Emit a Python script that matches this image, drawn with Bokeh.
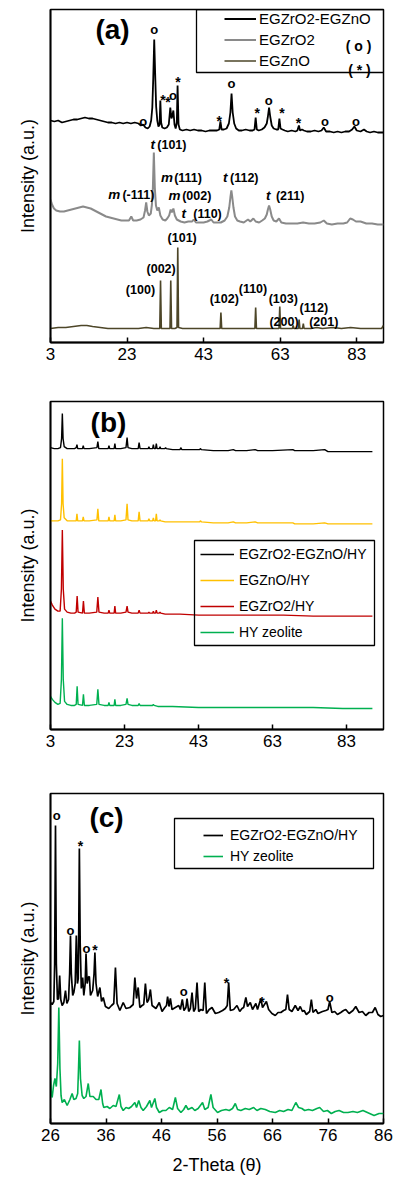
from bokeh.plotting import figure
from bokeh.layouts import column
from bokeh.models import Range1d, FixedTicker, Legend, LegendItem, Label, BoxAnnotation
from bokeh.core.properties import value
from bokeh.embed import file_html
from bokeh.resources import INLINE

FONT = "Liberation Sans"

# ---------------- Panel (a) data ----------------
a_zrzn_x = [3.0,4.0,5.0,6.0,7.0,8.0,9.0,10.0,11.0,12.0,13.0,14.0,15.0,16.0,17.0,18.0,19.0,20.0,21.0,22.0,23.0,24.0,25.0,26.0,26.6,27.2,27.8,28.4,28.9,29.3,29.6,29.85,30.1,30.35,30.6,30.9,31.2,31.5,31.7,31.9,32.2,32.8,33.4,33.9,34.3,34.6,34.8,35.1,35.4,35.7,36.0,36.2,36.45,36.8,37.5,38.5,39.5,40.5,41.5,42.5,43.5,44.5,45.5,46.5,47.1,47.4,47.7,48.3,49.0,49.6,50.0,50.3,50.6,51.0,51.5,52.2,53.0,54.0,55.0,55.8,56.3,56.6,56.9,57.4,58.2,58.9,59.5,59.8,60.1,60.4,60.8,61.3,62.0,62.5,62.8,63.1,63.6,64.2,65.0,66.0,67.0,67.5,67.9,68.2,68.7,69.2,70.0,71.0,72.0,73.0,73.8,74.4,75.0,76.0,77.0,78.0,79.0,80.0,81.0,81.8,82.4,83.0,84.0,84.9,85.6,86.5,87.5,88.5,90.0]
a_zrzn_y = [222,221,222,220,221,222,223,223,224,225,224,224,223,222,221,220,220,219,220,219,220,219,220,219,217,218,215,214,216,222,235,265,303,268,236,222,216,218,242,220,215,214,215,218,235,224,226,232,218,214,220,257,218,213,212,213,212,213,212,212,211,212,212,212,213,221,213,213,214,219,230,249,230,219,214,212,212,213,212,212,213,225,213,212,213,215,219,226,235,226,217,214,213,213,224,214,213,212,211,212,211,212,217,212,213,212,211,211,212,211,212,215,211,211,210,211,210,211,211,213,216,212,211,213,211,210,211,210,210]

a_zr_x = [3.0,3.4,3.9,4.5,5.5,6.5,7.5,8.5,9.5,10.5,11.5,12.5,13.5,14.5,15.5,16.5,17.5,18.5,19.5,20.5,21.5,22.5,23.5,24.1,24.6,25.5,26.5,27.3,27.7,28.0,28.3,28.7,29.2,29.5,29.75,30.0,30.25,30.55,30.9,31.3,31.7,32.3,33.0,33.5,34.0,34.4,34.7,35.1,35.5,36.0,37.0,38.0,39.0,40.0,40.4,41.0,42.0,43.0,44.0,45.0,45.6,46.5,47.5,48.5,49.2,49.7,50.0,50.25,50.5,50.8,51.2,51.8,52.5,53.5,54.6,55.2,56.0,56.6,57.5,58.3,59.0,59.5,59.8,60.1,60.4,60.8,61.3,62.0,62.7,63.3,64.5,66.0,67.5,69.0,70.5,72.0,73.5,74.4,75.2,76.5,78.0,79.5,80.5,81.3,82.0,82.8,84.0,85.5,87.0,88.5,90.0]
a_zr_y = [143,138,134,132,131,131,132,133,134,135,136,135,134,132,130,128,126,125,124,123,122,122,122,126,122,122,123,125,132,140,131,127,129,138,155,190,155,137,132,135,127,123,122,124,127,133,130,134,127,123,121,120,121,121,123,120,120,120,121,123,120,120,120,122,126,135,145,152,145,135,126,122,121,120,123,121,124,121,120,122,124,128,133,137,133,126,122,121,124,120,119,119,119,120,119,119,120,122,119,118,119,119,120,124,123,121,121,119,119,118,118]

a_zn_x = [3.0,5.0,7.0,9.0,11.0,12.5,14.0,16.0,18.0,20.0,22.0,24.0,26.0,28.0,30.0,31.55,31.75,31.95,33.0,34.22,34.42,34.62,35.5,36.05,36.25,36.45,37.5,40.0,43.0,45.0,47.32,47.52,47.72,50.0,53.0,56.4,56.6,56.8,59.0,62.7,62.9,63.1,65.0,66.2,66.4,66.6,67.75,67.95,68.15,68.85,69.05,69.25,71.0,72.6,74.0,76.9,79.0,81.4,84.0,87.0,89.5,90.0]
a_zn_y = [14,15,15,16,17,17,16,15,14,14,14,14,14,15,14,14,62,14,14,14,62,14,14,15,95,15,14,14,14,14,14,30,14,14,14,14,35,14,14,14,36,14,14,14,17,14,14,23,14,14,19,14,14,15,14,15,14,15,14,14,14,17]

a_mark_x = [27.2, 30.1, 32.4, 33.7, 35.0, 36.3, 47.1, 50.3, 57.0, 60.0, 63.5, 67.8, 74.7, 82.8]
a_mark_y = [221, 313, 247, 245, 247, 265, 226, 259, 234, 242, 234, 224, 221, 221]
a_mark_t = ["o", "o", "*", "*", "o", "*", "*", "o", "*", "o", "*", "*", "o", "o"]

a_phase_t = ["t", "m", "t", "m", "m", "t", "t"]
a_phase_x = [29.1, 31.9, 48.1, 18.1, 33.8, 37.2, 59.3]
a_hkl_t = ["(101)", "(111)", "(112)", "(-111)", "(002)", "(110)", "(211)"]
a_hkl_x = [30.9, 35.3, 49.9, 21.8, 37.4, 40.3, 61.9]
a_hkl_y = [198, 165, 165, 148, 147, 129, 147]

a_zn_lab = ["(100)", "(002)", "(101)", "(102)", "(110)", "(103)", "(112)", "(200)", "(201)"]
a_zn_lab_x = [26.5, 31.9, 37.4, 48.4, 55.9, 63.8, 71.8, 64.0, 74.4]
a_zn_lab_y = [53, 74, 105, 44, 54, 44, 35, 21, 21]

a_ticks = [3, 23, 43, 63, 83]

# ---------------- Panel (b) data ----------------
b_zrzn_x = [3.0,4.0,5.0,5.7,6.0,6.2,6.4,6.7,7.5,8.5,9.5,9.95,10.15,10.35,11.65,11.85,12.05,13.5,15.55,15.8,16.05,17.5,18.6,18.8,19.0,20.2,20.4,20.6,22.0,23.4,23.7,23.95,25.0,26.7,26.95,27.2,28.5,29.4,29.6,29.8,30.6,30.8,31.0,31.4,31.6,31.8,32.4,32.6,32.8,33.9,34.1,34.3,36.0,38.0,38.2,38.5,41.0,43.3,43.5,43.8,47.0,51.0,52.4,53.0,56.0,58.3,59.0,63.0,68.5,69.0,74.0,77.1,78.0,84.0,90.0]
b_zrzn_y = [281,280,280,281,290,315,290,282,280,280,280,281,284,280,280,283,280,280,281,287,280,280,280,283,280,280,285,280,280,281,291,281,280,280,286,280,280,280,282,280,280,284,280,280,285,280,280,282,280,280,281,280,279,279,281,279,279,279,280,279,278,278,279,278,278,279,278,278,279,278,278,279,277,277,277]

b_zn_x = [3.0,4.0,5.0,5.7,6.0,6.2,6.4,6.7,7.5,8.5,9.5,9.95,10.15,10.35,11.65,11.85,12.05,13.5,15.55,15.8,16.05,17.5,18.6,18.8,19.0,20.2,20.4,20.6,22.0,23.4,23.7,23.95,25.0,26.7,26.95,27.2,28.5,29.4,29.6,29.8,30.6,30.8,31.0,31.4,31.6,31.8,32.4,32.6,32.8,34.0,38.0,41.0,43.3,43.5,43.8,47.0,51.0,52.4,53.0,56.0,58.3,59.0,63.0,68.5,69.0,74.0,77.1,78.0,84.0,90.0]
b_zn_y = [208,208,208,209,225,270,225,211,208,208,208,208,215,208,208,212,208,208,209,220,208,208,208,212,208,208,214,208,208,209,225,209,208,208,217,208,208,208,210,208,208,211,208,208,215,208,208,209,208,207,207,207,207,208,207,206,206,207,206,206,207,206,206,206,205,205,206,205,205,205]

b_zr_x = [3.0,3.5,4.2,5.0,5.6,5.95,6.2,6.45,6.8,7.5,8.5,9.5,9.95,10.2,10.45,11.65,11.9,12.15,13.5,15.5,15.8,16.1,17.5,18.6,18.8,19.0,20.2,20.4,20.6,22.0,23.4,23.7,23.95,25.0,26.7,26.95,27.2,28.5,29.4,29.6,29.8,30.6,30.8,31.0,31.4,31.6,31.8,32.4,32.6,32.8,34.0,38.0,43.0,50.0,58.0,66.0,74.0,82.0,90.0]
b_zr_y = [128,124,120,118,118,140,199,140,120,117,116,116,117,133,117,116,128,116,116,117,132,117,116,116,119,116,116,123,116,116,117,123,117,116,116,119,116,116,116,117,116,116,118,116,116,119,116,116,117,116,115,115,114,114,114,114,113,113,113]

b_hy_x = [3.0,3.5,4.2,5.0,5.6,5.95,6.2,6.45,6.8,7.5,8.5,9.5,9.95,10.2,10.45,11.65,11.9,12.15,13.5,15.5,15.8,16.1,17.5,18.6,18.8,19.0,20.2,20.4,20.6,22.0,23.4,23.7,23.95,25.0,26.7,26.95,27.2,28.5,30.6,30.8,31.0,32.0,36.0,43.0,50.0,58.0,66.0,74.0,82.0,90.0]
b_hy_y = [33,30,27,25,26,50,111,50,28,25,24,24,25,43,25,24,35,24,24,25,40,25,24,24,27,24,24,30,24,24,25,31,25,24,24,26,24,24,24,25,24,23,23,22,22,22,22,22,21,21]

b_ticks = [3, 23, 43, 63, 83]

# ---------------- Panel (c) data ----------------
c_zrzn_x = [26.0,26.3,26.6,26.75,26.9,27.05,27.25,27.45,27.65,27.85,28.1,28.4,28.7,28.95,29.25,29.45,29.6,29.75,30.0,30.2,30.45,30.65,30.85,31.0,31.1,31.2,31.35,31.55,31.8,32.0,32.25,32.4,32.6,32.8,33.0,33.2,33.6,33.85,34.0,34.2,34.5,34.9,35.2,35.5,35.9,36.5,37.0,37.4,37.7,38.0,38.5,39.1,39.6,40.3,40.9,41.2,41.5,41.8,42.1,42.5,42.8,43.1,43.4,43.7,44.0,44.3,45.0,45.6,46.1,46.6,46.9,47.1,47.35,47.6,47.9,48.5,49.1,49.4,49.75,50.05,50.4,50.6,50.9,51.2,51.5,51.8,52.1,52.4,52.7,53.1,53.5,53.8,54.1,54.6,55.1,55.7,56.3,57.0,57.5,57.85,58.1,58.4,59.0,59.6,60.1,60.5,60.8,61.2,61.5,62.0,62.4,63.0,63.3,63.9,64.2,64.9,65.3,65.9,66.5,67.0,67.5,68.0,68.4,68.7,69.0,69.5,70.1,70.6,71.0,71.4,71.7,72.1,72.7,73.0,73.3,73.8,74.2,75.0,75.6,76.0,76.3,76.7,77.2,77.7,78.3,78.8,79.2,79.8,80.5,81.0,81.6,82.2,82.8,83.4,84.0,84.5,85.0,85.5,86.0]
c_zrzn_y = [121,119,122,160,298,160,124,125,148,124,118,121,133,120,124,150,188,150,128,131,140,188,140,145,200,275,180,135,146,128,140,170,140,146,147,128,133,150,171,140,127,136,122,126,117,115,118,120,156,120,113,121,115,116,119,146,125,136,116,118,119,140,121,124,134,118,115,121,112,116,118,127,117,125,114,116,118,114,124,113,116,125,112,115,131,112,115,141,112,114,113,141,110,114,116,110,111,113,115,118,141,113,114,118,112,115,116,126,117,121,114,120,114,125,116,122,114,110,108,111,111,113,114,129,114,112,118,113,117,112,113,109,112,124,111,114,110,112,113,114,122,111,112,109,111,113,114,110,113,117,111,112,108,111,111,116,109,107,108]

c_hy_x = [26.0,26.15,26.3,26.55,26.8,27.05,27.3,27.5,27.7,27.9,28.1,28.5,29.0,29.5,29.9,30.2,30.6,30.9,31.05,31.2,31.4,31.7,32.0,32.4,32.8,33.1,33.7,34.2,34.7,35.1,35.4,35.6,36.2,36.7,37.3,37.8,38.4,38.7,39.1,39.6,40.1,40.6,41.2,41.5,41.9,42.3,42.7,43.3,43.9,44.2,44.8,45.1,45.6,46.2,46.8,47.4,48.0,48.5,48.9,49.5,50.0,50.4,50.8,51.5,52.0,52.6,53.4,53.8,54.4,54.9,55.3,56.1,56.8,57.6,58.2,58.8,59.3,59.7,60.3,61.1,61.8,62.6,63.2,63.9,64.7,65.5,66.5,67.3,68.0,68.8,69.5,70.2,70.7,71.3,71.8,72.5,73.2,74.0,74.5,75.2,75.9,76.6,77.3,78.0,78.8,79.6,80.5,81.3,82.3,83.1,84.3,85.2,86.0]
c_hy_y = [46,30,26,38,45,37,60,116,55,28,21,24,18,24,30,24,25,30,55,83,45,28,25,27,40,27,27,24,24,34,20,16,17,15,18,17,29,17,13,16,15,17,21,16,23,16,13,17,23,16,25,16,11,13,13,16,14,26,15,11,14,18,14,16,13,15,21,14,16,29,16,11,13,14,13,15,20,14,13,15,14,16,13,15,14,12,11,13,12,14,13,21,16,15,13,14,13,15,16,12,13,10,12,13,11,11,12,11,13,11,8,10,10]

c_mark_x = [27.1, 29.6, 31.4, 32.5, 34.0, 50.0, 57.7, 64.1, 76.3]
c_mark_y = [308, 193, 282, 175, 178, 132, 145, 126, 126]
c_mark_t = ["o", "o", "*", "o", "*", "o", "*", "*", "o"]

c_ticks = [26, 36, 46, 56, 66, 76, 86]

BLACK = "#000000"
GRAY = "#8a8a8a"
OLIVE = "#4d4628"
YELLOW = "#ffc000"
RED = "#c00000"
GREEN = "#00b050"


def make_fig(h, xr, yr, ticks, bl, br, bt, bb):
    p = figure(width=400, height=h, x_range=Range1d(*xr), y_range=Range1d(*yr),
               output_backend="svg", toolbar_location=None,
               min_border_left=bl, min_border_right=br,
               min_border_top=bt, min_border_bottom=bb)
    p.grid.visible = False
    p.outline_line_color = "black"
    p.outline_line_width = 1.5
    p.outline_line_alpha = 1
    xa = p.xaxis[0]
    xa.ticker = FixedTicker(ticks=ticks)
    xa.minor_tick_line_color = None
    xa.major_tick_in = 5
    xa.major_tick_out = 0
    xa.major_tick_line_width = 1.5
    xa.axis_line_width = 1.8
    xa.major_label_text_font = FONT
    xa.major_label_text_font_size = "17px"
    xa.major_label_text_color = "black"
    xa.major_label_standoff = 5
    ya = p.yaxis[0]
    ya.ticker = FixedTicker(ticks=[])
    ya.minor_tick_line_color = None
    ya.major_tick_in = 0
    ya.major_tick_out = 0
    ya.axis_line_width = 1.8
    ya.axis_label = "Intensity (a.u.)"
    ya.axis_label_text_font = FONT
    ya.axis_label_text_font_size = "18px"
    ya.axis_label_text_font_style = "normal"
    ya.axis_label_text_color = "black"
    ya.axis_label_standoff = 13
    return p


def marks(p, xs, ys, ts):
    ox = [x for x, t in zip(xs, ts) if t == "o"]
    oy = [y for y, t in zip(ys, ts) if t == "o"]
    sx = [x for x, t in zip(xs, ts) if t == "*"]
    sy = [y for y, t in zip(ys, ts) if t == "*"]
    p.text(x=ox, y=oy, text=["o"] * len(ox), text_font=value(FONT), text_font_size=value("13px"),
           text_font_style="bold", text_align="center", text_baseline="middle", text_color="black")
    p.text(x=sx, y=sy, text=["*"] * len(sx), text_font=value(FONT), text_font_size=value("14px"),
           text_font_style="bold", text_align="center", text_baseline="middle", text_color="black",
           y_offset=4)


def legend_box(p, left, right, top, bottom):
    p.add_layout(BoxAnnotation(left=left, right=right, top=top, bottom=bottom,
                               left_units="screen", right_units="screen",
                               top_units="screen", bottom_units="screen",
                               fill_alpha=0, line_color="black", line_alpha=1, line_width=1.3))


def title(p, txt, x, y):
    p.add_layout(Label(x=x, y=y, x_units="screen", y_units="screen", text=txt,
                       text_font=FONT, text_font_size="28px", text_font_style="bold",
                       text_align="center", text_baseline="middle", text_color="black"))


# ---------------- Panel (a) ----------------
pa = make_fig(380, (3, 90), (0, 333), a_ticks, 49, 17, 9, 38)
ra1 = pa.line(a_zrzn_x, a_zrzn_y, line_color=BLACK, line_width=1.8)
ra2 = pa.line(a_zr_x, a_zr_y, line_color=GRAY, line_width=2.0)
ra3 = pa.line(a_zn_x, a_zn_y, line_color=OLIVE, line_width=1.6)
marks(pa, a_mark_x, a_mark_y, a_mark_t)
pa.text(x=a_phase_x, y=a_hkl_y, text=a_phase_t, text_font=value(FONT), text_font_size=value("13.5px"),
        text_font_style="bold italic", text_align="left", text_baseline="middle", text_color="black")
pa.text(x=a_hkl_x, y=a_hkl_y, text=a_hkl_t, text_font=value(FONT), text_font_size=value("12.5px"),
        text_font_style="bold", text_align="left", text_baseline="middle", text_color="black")
pa.text(x=a_zn_lab_x, y=a_zn_lab_y, text=a_zn_lab, text_font=value(FONT), text_font_size=value("12.5px"),
        text_font_style="bold", text_align="center", text_baseline="middle", text_color="black")
leg_a = Legend(items=[LegendItem(label="EGZrO2-EGZnO", renderers=[ra1]),
                      LegendItem(label="EGZrO2", renderers=[ra2]),
                      LegendItem(label="EGZnO", renderers=[ra3])],
               location=(174, 272), padding=0, margin=0, spacing=2,
               glyph_width=32, glyph_height=19, label_height=19, label_standoff=3,
               border_line_color=None, background_fill_alpha=0,
               label_text_font=FONT, label_text_font_size="15px", label_text_color="black")
pa.add_layout(leg_a)
legend_box(pa, 146, 334, 333, 270)
pa.add_layout(Label(x=308, y=297, x_units="screen", y_units="screen", text="( o )",
                    text_font=FONT, text_font_size="14px", text_font_style="bold",
                    text_align="center", text_baseline="middle", text_color="black"))
pa.add_layout(Label(x=309, y=273, x_units="screen", y_units="screen", text="( * )",
                    text_font=FONT, text_font_size="14px", text_font_style="bold",
                    text_align="center", text_baseline="middle", text_color="black"))
title(pa, "(a)", 62, 313)

# ---------------- Panel (b) ----------------
pb = make_fig(380, (3, 93), (0, 327), b_ticks, 49, 16, 21, 31)
rb1 = pb.line(b_zrzn_x, b_zrzn_y, line_color=BLACK, line_width=1.4)
rb2 = pb.line(b_zn_x, b_zn_y, line_color=YELLOW, line_width=1.4)
rb3 = pb.line(b_zr_x, b_zr_y, line_color=RED, line_width=1.4)
rb4 = pb.line(b_hy_x, b_hy_y, line_color=GREEN, line_width=1.4)
leg_b = Legend(items=[LegendItem(label="EGZrO2-EGZnO/HY", renderers=[rb1]),
                      LegendItem(label="EGZnO/HY", renderers=[rb2]),
                      LegendItem(label="EGZrO2/HY", renderers=[rb3]),
                      LegendItem(label="HY zeolite", renderers=[rb4])],
               location=(150, 87), padding=0, margin=0, spacing=6,
               glyph_width=34, glyph_height=20, label_height=20, label_standoff=5,
               border_line_color=None, background_fill_alpha=0,
               label_text_font=FONT, label_text_font_size="14px", label_text_color="black")
pb.add_layout(leg_b)
legend_box(pb, 144, 324, 189, 84)
title(pb, "(b)", 58, 307)

# ---------------- Panel (c) ----------------
pc = make_fig(421, (26, 86), (0, 330), c_ticks, 50, 13, 33, 58)
rc1 = pc.line(c_zrzn_x, c_zrzn_y, line_color=BLACK, line_width=1.7)
rc2 = pc.line(c_hy_x, c_hy_y, line_color=GREEN, line_width=1.6)
marks(pc, c_mark_x, c_mark_y, c_mark_t)
leg_c = Legend(items=[LegendItem(label="EGZrO2-EGZnO/HY", renderers=[rc1]),
                      LegendItem(label="HY zeolite", renderers=[rc2])],
               location=(153, 257), padding=0, margin=0, spacing=1,
               glyph_width=20, glyph_height=20, label_height=20, label_standoff=7,
               border_line_color=None, background_fill_alpha=0,
               label_text_font=FONT, label_text_font_size="14px", label_text_color="black")
pc.add_layout(leg_c)
legend_box(pc, 124, 323, 305, 255)
title(pc, "(c)", 56, 306)
xc = pc.xaxis[0]
xc.axis_label = "2-Theta (\u03b8)"
xc.axis_label_text_font = FONT
xc.axis_label_text_font_size = "18px"
xc.axis_label_text_font_style = "normal"
xc.axis_label_text_color = "black"
xc.axis_label_standoff = 11

layout = column(pa, pb, pc, spacing=0)
open("out.html", "w").write(file_html(layout, INLINE))
